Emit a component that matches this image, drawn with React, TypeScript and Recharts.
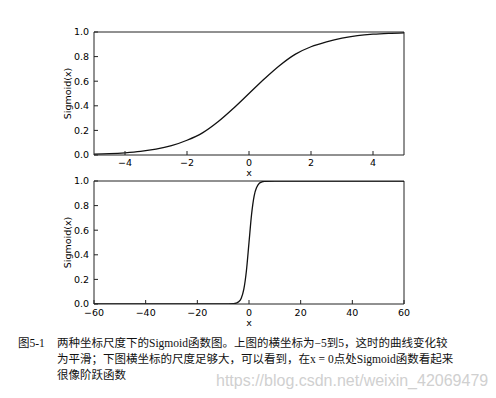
import React from 'react';
import { LineChart, Line, XAxis, YAxis, ReferenceLine } from 'recharts';

const topX = [-5, -4.5, -4, -3.5, -3, -2.5, -2, -1.5, -1, -0.5, 0, 0.5, 1, 1.5, 2, 2.5, 3, 3.5, 4, 4.5, 5];
const topY = [0.007, 0.011, 0.018, 0.029, 0.047, 0.076, 0.12, 0.18, 0.27, 0.38, 0.5, 0.62, 0.73, 0.82, 0.88, 0.92, 0.95, 0.97, 0.982, 0.989, 0.993];
const bottomX = [-60, -40, -20, -10, -6, -5, -4, -3, -2, -1, 0, 1, 2, 3, 4, 5, 6, 10, 20, 40, 60];
const bottomY = [0, 0, 0, 0, 0.003, 0.007, 0.018, 0.047, 0.12, 0.27, 0.5, 0.73, 0.88, 0.95, 0.982, 0.993, 0.997, 1, 1, 1, 1];
const topXTicks = [-4, -2, 0, 2, 4];
const bottomXTicks = [-60, -40, -20, 0, 20, 40, 60];
const yTicks = [0, 0.2, 0.4, 0.6, 0.8, 1.0];
const xLabel = 'x';
const yLabel = 'Sigmoid(x)';
const captionTag = '图5-1';
const captionLines = [
  '两种坐标尺度下的Sigmoid函数图。上图的横坐标为−5到5，这时的曲线变化较',
  '为平滑；下图横坐标的尺度足够大，可以看到，在x = 0点处Sigmoid函数看起来',
  '很像阶跃函数',
];
const watermark = 'https://blog.csdn.net/weixin_42069479';

const topData = topX.map((x, i) => ({ x, y: topY[i] }));
const bottomData = bottomX.map((x, i) => ({ x, y: bottomY[i] }));

const fmtX = (v: number) => (v < 0 ? '\u2212' + Math.abs(v) : String(v));
const fmtY = (v: number) => v.toFixed(1);

const tickFont = { fontSize: 9.5, fill: '#000', fontFamily: 'DejaVu Sans' };
const axisStroke = '#222';

function Panel(props: { data: { x: number; y: number }[]; domain: [number, number]; ticks: number[]; top: number; marginTop: number; xHeight: number; labelOffset: number; xTickMargin: number }) {
  const { data, domain, ticks, top, marginTop, xHeight, labelOffset, xTickMargin } = props;
  return (
    <div style={{ position: 'absolute', left: 0, top }}>
      <LineChart width={496} height={185} data={data} margin={{ top: marginTop, right: 92, bottom: 0, left: 0 }}>
        <XAxis
          dataKey="x"
          type="number"
          domain={domain}
          ticks={ticks}
          tickFormatter={fmtX}
          height={xHeight}
          tickSize={-4}
          tickMargin={xTickMargin}
          tick={tickFont}
          stroke={axisStroke}
          allowDataOverflow
          label={{ value: xLabel, position: 'insideBottom', offset: labelOffset, style: { fontSize: 9.5, fill: '#000', fontFamily: 'DejaVu Sans' } }}
        />
        <YAxis
          type="number"
          domain={[0, 1]}
          ticks={yTicks}
          tickFormatter={fmtY}
          width={94}
          tickSize={-4}
          tickMargin={9}
          tick={tickFont}
          stroke={axisStroke}
          allowDataOverflow
          label={{ value: yLabel, angle: -90, position: 'insideLeft', offset: 68, style: { textAnchor: 'middle', fontSize: 9.5, fill: '#000', fontFamily: 'DejaVu Sans' } }}
        />
        <ReferenceLine y={1} stroke={axisStroke} strokeWidth={1} ifOverflow="visible" />
        <ReferenceLine x={domain[1]} stroke={axisStroke} strokeWidth={1} ifOverflow="visible" />
        <Line type="monotone" dataKey="y" stroke="#111" strokeWidth={1.3} dot={false} isAnimationActive={false} />
      </LineChart>
    </div>
  );
}

export default function App() {
  const captionStyle: React.CSSProperties = {
    position: 'absolute',
    fontFamily: "'Liberation Serif', 'Noto Sans CJK SC', serif",
    fontSize: 11.5,
    lineHeight: '12px',
    whiteSpace: 'nowrap',
    color: '#111',
  };
  return (
    <div style={{ position: 'absolute', left: 0, top: 0, width: 496, height: 398, background: '#fff', overflow: 'hidden' }}>
      <Panel data={topData} domain={[-5, 5]} ticks={topXTicks} top={0} marginTop={32} xHeight={30} labelOffset={9.5} xTickMargin={8} />
      <Panel data={bottomData} domain={[-60, 60]} ticks={bottomXTicks} top={150} marginTop={31} xHeight={31} labelOffset={9.5} xTickMargin={9} />
      <div style={{ ...captionStyle, left: 18, top: 337 }}>{captionTag}</div>
      <div style={{ ...captionStyle, left: 57, top: 337 }}>{captionLines[0]}</div>
      <div style={{ ...captionStyle, left: 57, top: 353 }}>{captionLines[1]}</div>
      <div style={{ ...captionStyle, left: 57, top: 369 }}>{captionLines[2]}</div>
      <div style={{ position: 'absolute', left: 216, top: 372, fontFamily: "'Liberation Sans', Arial, sans-serif", fontSize: 16, lineHeight: '18px', color: '#d0d0d0', whiteSpace: 'nowrap' }}>{watermark}</div>
    </div>
  );
}
